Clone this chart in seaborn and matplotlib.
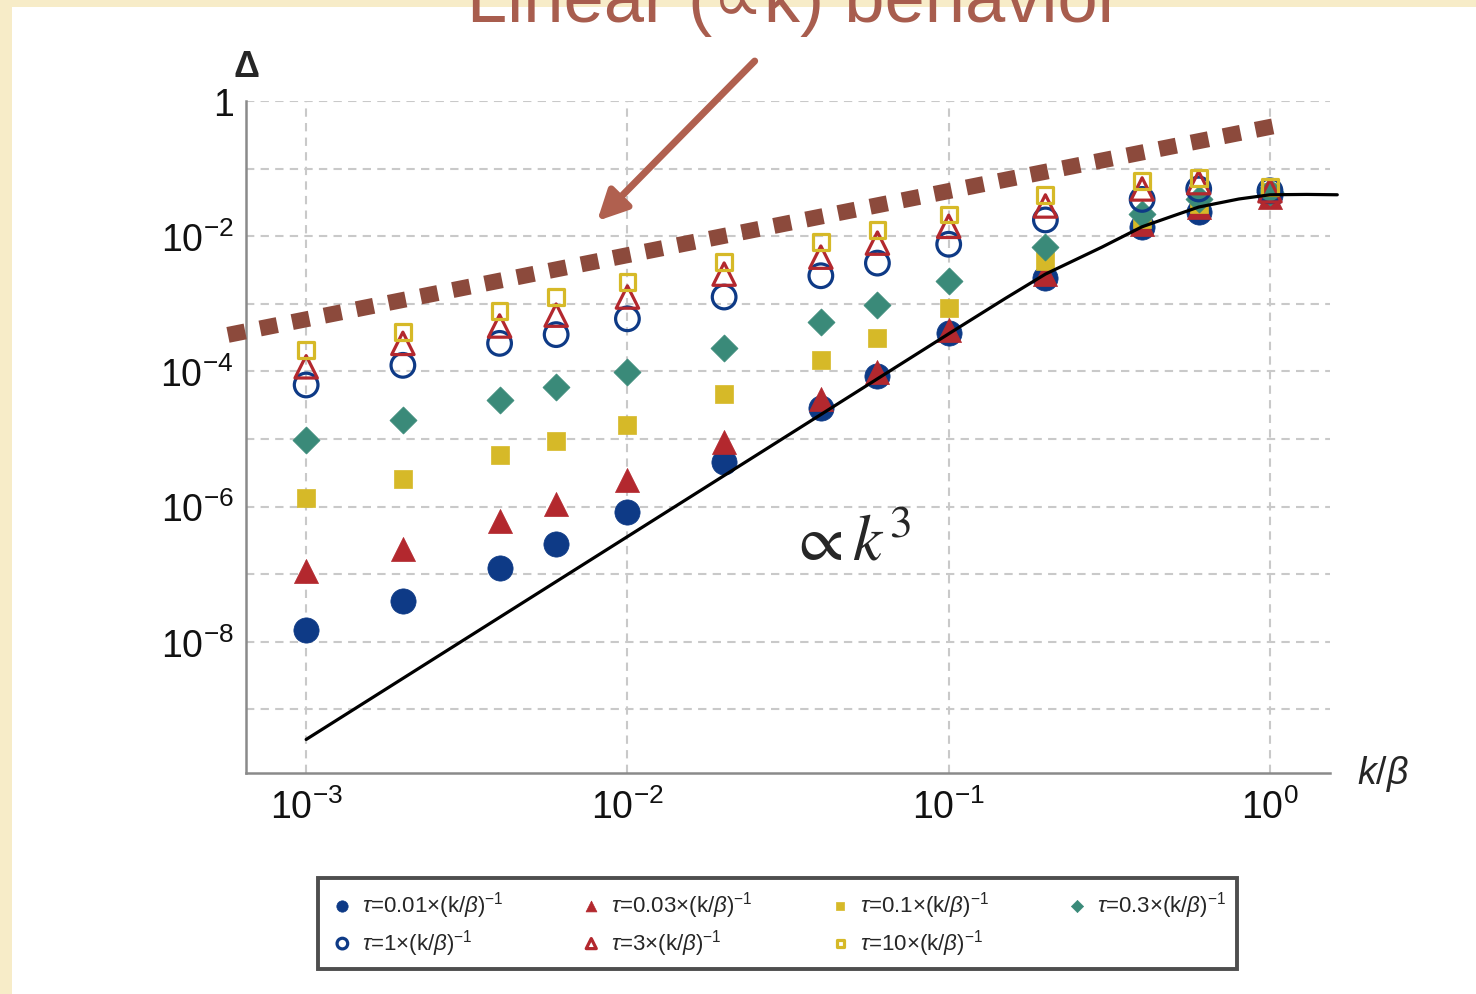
import matplotlib
matplotlib.use("Agg")
import matplotlib.pyplot as plt
import seaborn as sns
from matplotlib.patches import Rectangle
from matplotlib.ticker import FixedLocator, FixedFormatter, NullFormatter

# ---- data -------------------------------------------------------------
k_values = [0.001, 0.002, 0.004, 0.006, 0.01, 0.02, 0.04, 0.06, 0.1, 0.2, 0.4, 0.6, 1.0]

tau_labels = ["0.01", "0.03", "0.1", "0.3", "1", "3", "10"]

delta_tau_0p01 = [1.48e-8, 3.98e-8, 1.23e-7, 2.82e-7, 8.3e-7, 4.57e-6, 2.88e-5,
                  8.5e-5, 3.7e-4, 2.4e-3, 1.38e-2, 2.3e-2, 4.07e-2]
delta_tau_0p03 = [1.12e-7, 2.34e-7, 6.2e-7, 1.1e-6, 2.45e-6, 9.1e-6, 3.9e-5,
                  9.8e-5, 4.1e-4, 2.75e-3, 1.5e-2, 2.7e-2, 3.8e-2]
delta_tau_0p1 = [1.35e-6, 2.6e-6, 5.75e-6, 9.3e-6, 1.6e-5, 4.7e-5, 1.5e-4,
                 3.1e-4, 8.7e-4, 4.3e-3, 1.8e-2, 3.0e-2, 4.5e-2]
delta_tau_0p3 = [9.8e-6, 1.9e-5, 3.8e-5, 5.9e-5, 9.8e-5, 2.2e-4, 5.4e-4,
                 9.5e-4, 2.2e-3, 6.9e-3, 2.1e-2, 3.5e-2, 4.5e-2]
delta_tau_1 = [6.3e-5, 1.23e-4, 2.6e-4, 3.5e-4, 6.0e-4, 1.26e-3, 2.6e-3,
               4.0e-3, 7.6e-3, 1.74e-2, 3.5e-2, 5.0e-2, 4.7e-2]
delta_tau_3 = [1.17e-4, 2.6e-4, 4.7e-4, 6.8e-4, 1.26e-3, 2.75e-3, 4.9e-3,
               7.9e-3, 1.4e-2, 2.8e-2, 5.0e-2, 6.2e-2, 4.7e-2]
delta_tau_10 = [2.1e-4, 3.8e-4, 7.8e-4, 1.26e-3, 2.1e-3, 4.2e-3, 8.1e-3,
                1.23e-2, 2.1e-2, 4.1e-2, 6.6e-2, 7.2e-2, 5.4e-2]

# adiabatic (k^3) reference curve
curve_k = [0.001, 0.01, 0.1, 0.15, 0.2, 0.3, 0.4, 0.5, 0.6, 0.8, 1.0, 1.3, 1.62]
curve_delta = [3.6e-10, 3.6e-7, 3.6e-4, 1.2e-3, 2.75e-3, 6.9e-3, 1.38e-2,
               2.0e-2, 2.7e-2, 3.55e-2, 4.1e-2, 4.15e-2, 4.1e-2]

# linear guide line
linear_k = [5.71e-4, 1.074]
linear_delta = [3.47e-4, 0.442]

y_tick_values = [1.0, 1e-2, 1e-4, 1e-6, 1e-8]
y_tick_labels = ["1", r"$\mathregular{10^{-2}}$", r"$\mathregular{10^{-4}}$",
                 r"$\mathregular{10^{-6}}$", r"$\mathregular{10^{-8}}$"]
y_grid_values = [1e-1, 1e-3, 1e-5, 1e-7, 1e-9]
x_tick_values = [1e-3, 1e-2, 1e-1, 1.0]
x_tick_labels = [r"$\mathregular{10^{-3}}$", r"$\mathregular{10^{-2}}$",
                 r"$\mathregular{10^{-1}}$", r"$\mathregular{10^{0}}$"]

# ---- style ------------------------------------------------------------
sns.set_style("white")
plt.rcParams["font.family"] = ["Liberation Sans", "DejaVu Sans"]
plt.rcParams["mathtext.fontset"] = "custom"
plt.rcParams["mathtext.rm"] = "Liberation Sans"
plt.rcParams["mathtext.it"] = "Liberation Sans:italic"
plt.rcParams["mathtext.bf"] = "Liberation Sans:bold"

BLUE = "#0E3A86"
RED = "#B3282E"
YELLOW = "#D6B928"
TEAL = "#3A8A79"
BROWN = "#8C4A3C"
ARROW = "#B0604F"

fig = plt.figure(figsize=(14.76, 9.95), dpi=100, facecolor="#F7ECC8")
fig.patches.append(Rectangle((12 / 1476, 0), 1 - 12 / 1476, 1 - 8 / 995,
                             transform=fig.transFigure, facecolor="white",
                             edgecolor="none", zorder=-10))

ax = fig.add_axes([0.1667, 0.2221, 0.7344, 0.6754])
ax.set_facecolor("none")
ax.set_xscale("log")
ax.set_yscale("log")
ax.set_xlim(6.5e-4, 1.538)
ax.set_ylim(10 ** -9.94, 1.0)

# grid
grid_kw = dict(color="#c9c9c9", lw=1.5, linestyle=(0, (4, 3)), zorder=1)
for yv in y_tick_values + y_grid_values:
    ax.axhline(yv, **grid_kw)
for xv in x_tick_values:
    ax.axvline(xv, **grid_kw)

# series
series = [
    (delta_tau_0p01, "o", 330, BLUE, True),
    (delta_tau_0p03, "^", 300, RED, True),
    (delta_tau_0p1, "s", 165, YELLOW, True),
    (delta_tau_0p3, "D", 190, TEAL, True),
    (delta_tau_1, "o", 290, BLUE, False),
    (delta_tau_3, "^", 260, RED, False),
    (delta_tau_10, "s", 130, YELLOW, False),
]
handles = []
for i, (vals, mk, size, col, filled) in enumerate(series):
    label = r"$\tau$=" + tau_labels[i] + r"×(k/$\beta$)$^{-1}$"
    if filled:
        sns.scatterplot(x=k_values, y=vals, ax=ax, marker=mk, s=size, color=col,
                        edgecolor=col, linewidth=0.5, zorder=3 + i, legend=False)
    else:
        sns.scatterplot(x=k_values, y=vals, ax=ax, marker=mk, s=size, color=col,
                        facecolor="none", edgecolor=col, linewidth=2.3,
                        zorder=3 + i, legend=False)
    coll = ax.collections[-1]
    coll.set_label(label)
    handles.append(coll)

# k^3 curve
sns.lineplot(x=curve_k, y=curve_delta, ax=ax, color="black", lw=2.3,
             zorder=12, sort=False, estimator=None, legend=False)
ax.lines[-1].set_clip_on(False)

# linear guide
sns.lineplot(x=linear_k, y=linear_delta, ax=ax, color=BROWN, lw=11.5,
             linestyle=(0, (1.1, 0.95)), zorder=13, sort=False, estimator=None,
             legend=False)
ax.lines[-1].set_clip_on(False)
if ax.get_legend() is not None:
    ax.get_legend().remove()

# arrow pointing at the linear guide
ax.annotate("", xy=(0.00805, 0.0168), xytext=(0.0249, 3.9),
            arrowprops=dict(arrowstyle="-|>", color=ARROW, lw=5,
                            mutation_scale=45, shrinkA=0, shrinkB=0),
            annotation_clip=False, zorder=14)

ax.text(0.0318, 1.68e-7, r"$\propto k^{3}$", fontsize=47, math_fontfamily="stix",
        ha="left", va="baseline", zorder=15)

# axes styling
for side in ["top", "right"]:
    ax.spines[side].set_visible(False)
for side in ["left", "bottom"]:
    ax.spines[side].set_color("#8a8a8a")
    ax.spines[side].set_linewidth(1.8)

ax.yaxis.set_major_locator(FixedLocator(y_tick_values))
ax.yaxis.set_major_formatter(FixedFormatter(y_tick_labels))
ax.yaxis.set_minor_locator(FixedLocator(y_grid_values))
ax.yaxis.set_minor_formatter(NullFormatter())
ax.xaxis.set_major_locator(FixedLocator(x_tick_values))
ax.xaxis.set_major_formatter(FixedFormatter(x_tick_labels))
ax.xaxis.set_minor_locator(FixedLocator([]))
ax.tick_params(which="major", direction="in", length=7, width=1.8, color="#6a6a6a",
               labelsize=27, pad=9, labelcolor="#111111")
ax.tick_params(which="minor", direction="in", length=4, width=1.2, color="#9a9a9a")
ax.tick_params(axis="x", which="major", pad=11)
ax.set_xlabel("")
ax.set_ylabel("")

ax.text(0.0, 1.052, "Δ", transform=ax.transAxes, fontsize=26, fontweight="bold",
        ha="center", va="center")
ax.text(1.025, 0.0, r"$k/\beta$", transform=ax.transAxes, fontsize=27,
        ha="left", va="center")

# legend in row order: column-major fill of 4 columns
order = [0, 4, 1, 5, 2, 6, 3]
leg = fig.legend([handles[j] for j in order], [handles[j].get_label() for j in order],
                 loc="lower left", bbox_to_anchor=(0.2154, 0.0251, 0.6226, 0.0955),
                 mode="expand", ncol=4, fontsize=16, markerscale=0.45,
                 frameon=True, fancybox=False, edgecolor="#222222",
                 handletextpad=0.3, labelspacing=0.3, borderpad=0.5,
                 borderaxespad=0.0, handlelength=1.2, scatterpoints=1)
leg.get_frame().set_linewidth(2.8)

# slide heading, partly running off the top edge
fig.text(0.538, 1 - 22 / 995, "Linear (∝k) behavior", fontsize=52,
         color="#A85D4E", ha="center", va="baseline")

fig.savefig("out.png", dpi=100, facecolor=fig.get_facecolor())
